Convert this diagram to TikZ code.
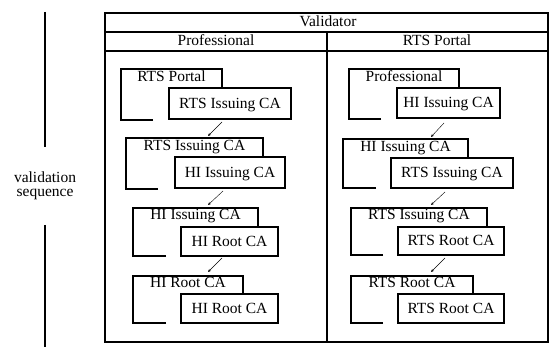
\documentclass[tikz,border=0pt]{standalone}
\usepackage{fontspec}
\setmainfont{Liberation Serif}
\usetikzlibrary{arrows.meta}
\begin{document}
\begin{tikzpicture}[x=1pt,y=-1pt,
  txt/.style={font=\fontsize{15.5}{14.5}\selectfont},
  frame/.style={line width=2.6pt},
  rulel/.style={line width=1.8pt},
  bracket/.style={line width=1.8pt},
  cabox/.style={txt,draw,line width=1.8pt,inner sep=0pt,text height=10pt,text depth=0pt},
  lbl/.style={txt,inner sep=0pt,text height=10pt,text depth=0pt},
  arr/.style={-{Stealth[length=3pt,width=2.6pt]},line width=0.4pt},
  seqline/.style={line width=1.6pt},
]
\useasboundingbox (0,0) rectangle (549,347);

% validation sequence indicator
\node[txt,align=center,inner sep=0pt] (seq) at (45,186) {validation\\sequence};
\coordinate (s1a) at (45,12);
\coordinate (s1b) at (45,147);
\coordinate (s2a) at (45,225);
\coordinate (s2b) at (45,347);
\draw[seqline] (s1a) -- (s1b);
\draw[seqline] (s2a) -- (s2b);

% outer frame and header
\draw[frame] (105,13) rectangle (548,342);
\draw[rulel] (105,32) -- (548,32);
\draw[rulel] (105,51) -- (548,51);
\draw[rulel] (327,32) -- (327,342);
\node[lbl] (hval) at (328,21.5) {Validator};
\node[lbl] (hpro) at (216,41) {Professional};
\node[lbl] (hrts) at (437,41) {RTS Portal};

% ---------- left column ----------
\draw[bracket] (153,120) -| (121,69) -| (222,88);
\node[lbl] (L1t) at (171.5,77) {RTS Portal};
\node[cabox,minimum width=122pt,minimum height=31pt] (L1c) at (230,103.5) {RTS Issuing CA};

\draw[bracket] (158,189) -| (126,138) -| (263,157);
\node[lbl] (L2t) at (194.5,146) {RTS Issuing CA};
\node[cabox,minimum width=110pt,minimum height=31pt] (L2c) at (230,172.5) {HI Issuing CA};

\draw[bracket] (166,256) -| (133,208) -| (258,227);
\node[lbl] (L3t) at (195.5,215) {HI Issuing CA};
\node[cabox,minimum width=97pt,minimum height=29pt] (L3c) at (229.5,241.5) {HI Root CA};

\draw[bracket] (166,323) -| (133,276) -| (243,294);
\node[lbl] (L4t) at (188,283) {HI Root CA};
\node[cabox,minimum width=97pt,minimum height=29pt] (L4c) at (229.5,308.5) {HI Root CA};

\coordinate (La1) at (222,122); \coordinate (Lb1) at (208,136);
\coordinate (La2) at (223,191); \coordinate (Lb2) at (208,205);
\coordinate (La3) at (222,258); \coordinate (Lb3) at (208,272);
\draw[arr] (La1) -- (Lb1);
\draw[arr] (La2) -- (Lb2);
\draw[arr] (La3) -- (Lb3);

% ---------- right column ----------
\draw[bracket] (381,119) -| (349,69) -| (459,88);
\node[lbl] (R1t) at (404,77) {Professional};
\node[cabox,minimum width=103pt,minimum height=30pt] (R1c) at (448.5,103) {HI Issuing CA};

\draw[bracket] (376,188) -| (343,139) -| (468,158);
\node[lbl] (R2t) at (405.5,147) {HI Issuing CA};
\node[cabox,minimum width=122pt,minimum height=30pt] (R2c) at (452,173) {RTS Issuing CA};

\draw[bracket] (383,255) -| (351,208) -| (487,227);
\node[lbl] (R3t) at (419,215) {RTS Issuing CA};
\node[cabox,minimum width=106pt,minimum height=28pt] (R3c) at (451,241) {RTS Root CA};

\draw[bracket] (383,323) -| (351,276) -| (473,294);
\node[lbl] (R4t) at (412,283) {RTS Root CA};
\node[cabox,minimum width=106pt,minimum height=29pt] (R4c) at (451,308.5) {RTS Root CA};

\coordinate (Ra1) at (444,123); \coordinate (Rb1) at (431,137);
\coordinate (Ra2) at (445,192); \coordinate (Rb2) at (431,205);
\coordinate (Ra3) at (445,258); \coordinate (Rb3) at (431,272);
\draw[arr] (Ra1) -- (Rb1);
\draw[arr] (Ra2) -- (Rb2);
\draw[arr] (Ra3) -- (Rb3);
\end{tikzpicture}
\end{document}
